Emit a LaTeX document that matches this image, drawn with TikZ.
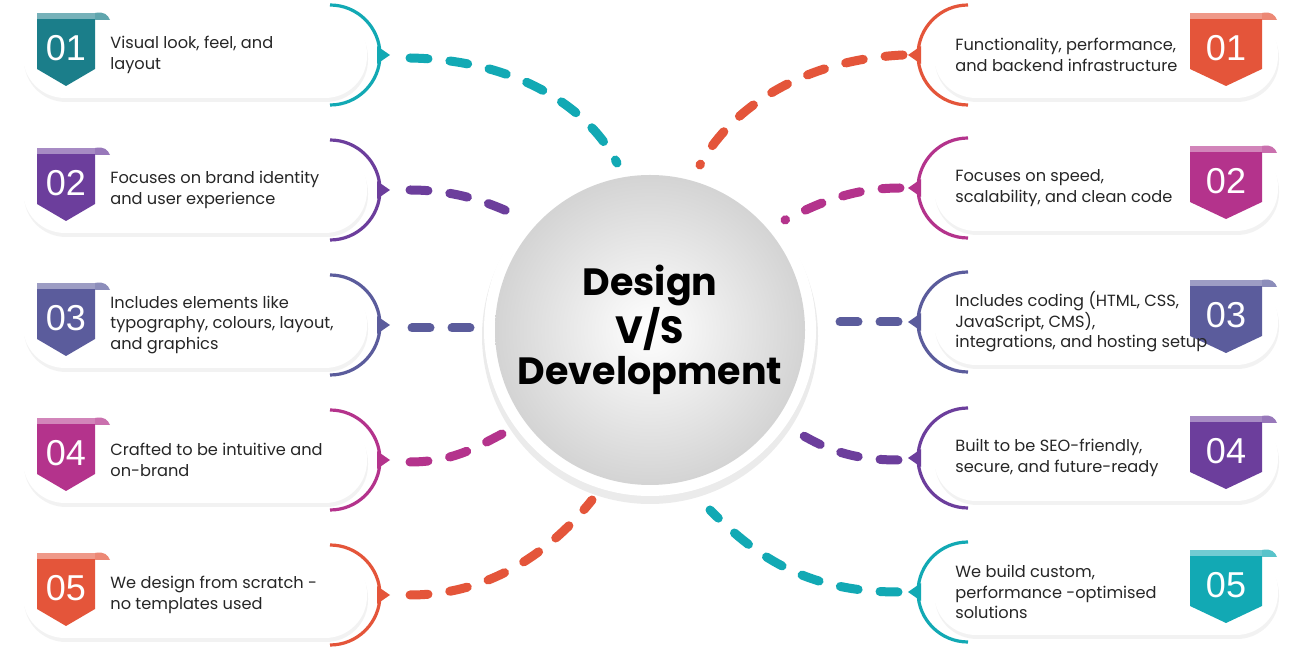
\documentclass[tikz,border=0pt]{standalone}
\usepackage{fontspec}
\setmainfont{Poppins}
\newfontfamily\numfont{Liberation Sans}
\definecolor{cteal}{HTML}{12A9B4}
\definecolor{dteal}{HTML}{1B7E8A}
\definecolor{cpurple}{HTML}{6C3E9C}
\definecolor{cslate}{HTML}{5B5C9C}
\definecolor{cmag}{HTML}{B4338C}
\definecolor{corange}{HTML}{E4553A}
\definecolor{txt}{HTML}{262626}
\begin{document}
\begin{tikzpicture}[x=0.5pt,y=-0.5pt,
  card/.style={draw=none,fill=white,minimum width=172pt,minimum height=43pt,rounded corners=21pt,inner sep=0pt},
  shadowcard/.style={card,fill=black!40,opacity=0.12},
  body/.style={anchor=west,align=left,text=txt,font=\fontsize{8.1}{10.2}\selectfont,inner sep=0pt},
  num/.style={text=white,font=\numfont\fontsize{18}{18}\selectfont,inner sep=0pt},
  dl/.style={line width=4.5pt,line cap=round,dash pattern=on 9pt off 11pt},
  arcl/.style={line width=1.6pt}]
\useasboundingbox (0,0) rectangle (1300,656);
\fill[white] (0,0) rectangle (1300,656);
% center circle
\fill[black,opacity=0.08] (650,336) circle[radius=168];
\fill[white] (650,330) circle[radius=166];
\shade[inner color=white,outer color=black!17] (650,330) circle[radius=155];
\node[font=\bfseries\fontsize{19}{20.5}\selectfont,align=center,text=black] (center) at (650,330) {Design\\V/S\\Development};
% left cards
\foreach \i/\cy/\col/\bcol/\txt in {
  1/55/cteal/dteal/{Visual look, feel, and\\layout},
  2/190/cpurple/cpurple/{Focuses on brand identity\\and user experience},
  3/325/cslate/cslate/{Includes elements like\\typography, colours, layout,\\and graphics},
  4/460/cmag/cmag/{Crafted to be intuitive and\\on-brand},
  5/595/corange/corange/{We design from scratch -\\no templates used}}{
  \node[shadowcard] at (196,\cy+4) {};
  \node[card] (L\i) at (195,\cy) {};
  \draw[\col,arcl] (330,\cy-50) arc(-90:90:50);
  \fill[\col] (377,\cy-9) -- (390,\cy) -- (377,\cy+9) -- cycle;
  \fill[\bcol] (37,\cy-36) -- (95,\cy-36) -- (95,\cy+14) -- (66,\cy+31) -- (37,\cy+14) -- cycle;
  \fill[\bcol!60!white] (37,\cy-42) rectangle (95,\cy-36);
  \fill[\bcol!70!white] (95,\cy-42) .. controls (104,\cy-44) and (108,\cy-40) .. (110,\cy-35) -- (95,\cy-35) -- cycle;
  \node[num] (LN\i) at (66,\cy-7) {0\i};
  \node[body] (LT\i) at (110,\cy) {\txt};
}
% right cards
\foreach \i/\cy/\col/\txt in {
  1/55/corange/{Functionality, performance,\\and backend infrastructure},
  2/188/cmag/{Focuses on speed,\\scalability, and clean code},
  3/322/cslate/{Includes coding (HTML, CSS,\\JavaScript, CMS),\\integrations, and hosting setup},
  4/458/cpurple/{Built to be SEO-friendly,\\secure, and future-ready},
  5/592/cteal/{We build custom,\\performance -optimised\\solutions}}{
  \node[shadowcard] at (1107,\cy+4) {};
  \node[card] (R\i) at (1106,\cy) {};
  \draw[\col,arcl] (968,\cy-50) arc(-90:-270:50);
  \fill[\col] (921,\cy-9) -- (908,\cy) -- (921,\cy+9) -- cycle;
  \fill[\col] (1190,\cy-36) -- (1262,\cy-36) -- (1262,\cy+14) -- (1226,\cy+31) -- (1190,\cy+14) -- cycle;
  \fill[\col!60!white] (1190,\cy-42) rectangle (1262,\cy-36);
  \fill[\col!70!white] (1262,\cy-42) .. controls (1271,\cy-44) and (1275,\cy-40) .. (1277,\cy-35) -- (1262,\cy-35) -- cycle;
  \node[num] (RN\i) at (1226,\cy-7) {0\i};
  \node[body] (RT\i) at (955,\cy) {\txt};
}
% connector end points
\coordinate (la1) at (410,58);  \coordinate (lb1) at (617,163);
\coordinate (la2) at (410,190); \coordinate (lb2) at (522,218);
\coordinate (la3) at (412,328); \coordinate (lb3) at (470,328);
\coordinate (la4) at (410,462); \coordinate (lb4) at (502,434);
\coordinate (la5) at (410,595); \coordinate (lb5) at (592,500);
\coordinate (ra1) at (903,55);  \coordinate (rb1) at (700,165);
\coordinate (ra2) at (900,188); \coordinate (rb2) at (785,220);
\coordinate (ra3) at (898,322); \coordinate (rb3) at (838,322);
\coordinate (ra4) at (898,460); \coordinate (rb4) at (802,435);
\coordinate (ra5) at (898,592); \coordinate (rb5) at (710,510);
\draw[dl,cteal] (la1) .. controls (520,60) and (590,110) .. (lb1);
\draw[dl,cpurple] (la2) .. controls (460,190) and (495,205) .. (lb2);
\draw[dl,cslate] (la3) -- (lb3);
\draw[dl,cmag] (la4) .. controls (455,462) and (480,445) .. (lb4);
\draw[dl,corange] (la5) .. controls (500,595) and (560,540) .. (lb5);
\draw[dl,corange] (ra1) .. controls (800,60) and (730,110) .. (rb1);
\draw[dl,cmag] (ra2) .. controls (850,188) and (815,205) .. (rb2);
\draw[dl,cslate] (ra3) -- (rb3);
\draw[dl,cpurple] (ra4) .. controls (850,460) and (825,448) .. (rb4);
\draw[dl,cteal] (ra5) .. controls (800,592) and (750,550) .. (rb5);
\end{tikzpicture}
\end{document}
